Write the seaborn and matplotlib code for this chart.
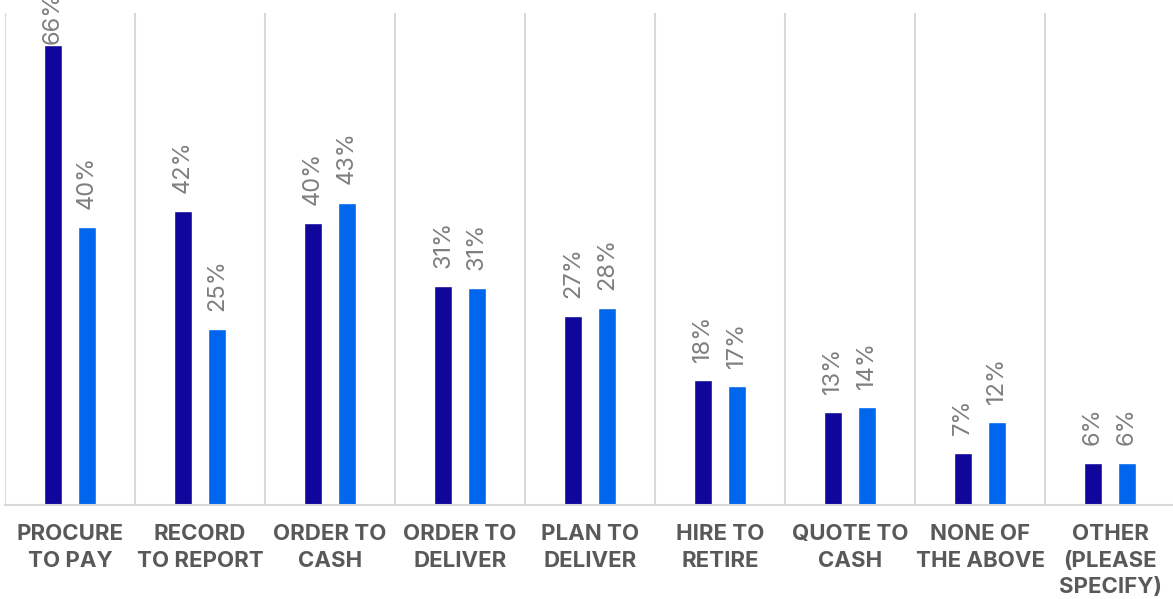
import matplotlib
matplotlib.use("Agg")
import matplotlib.pyplot as plt
import pandas as pd
import seaborn as sns

categories = ["PROCURE\nTO PAY", "RECORD\nTO REPORT", "ORDER TO\nCASH", "ORDER TO\nDELIVER",
              "PLAN TO\nDELIVER", "HIRE TO\nRETIRE", "QUOTE TO\nCASH", "NONE OF\nTHE ABOVE",
              "OTHER\n(PLEASE\nSPECIFY)"]
series_names = ["Series 1", "Series 2"]
series_1 = [66.0, 42.2, 40.4, 31.4, 27.1, 18.0, 13.4, 7.4, 6.0]
series_2 = [39.9, 25.3, 43.4, 31.1, 28.2, 17.1, 14.1, 11.9, 6.0]
labels_1 = ["66%", "42%", "40%", "31%", "27%", "18%", "13%", "7%", "6%"]
labels_2 = ["40%", "25%", "43%", "31%", "28%", "17%", "14%", "12%", "6%"]

colors = ["#11069B", "#0066EE"]

df = pd.DataFrame({
    "category": categories * 2,
    "series": [series_names[0]] * len(categories) + [series_names[1]] * len(categories),
    "value": series_1 + series_2,
})

sns.set_style("white")
plt.rcParams["font.family"] = ["Inter", "DejaVu Sans"]

fig = plt.figure(figsize=(11.73, 5.99), dpi=100)
ax = fig.add_axes([5 / 1173, 94 / 599, 1170 / 1173, 492 / 599])

sns.barplot(data=df, x="category", y="value", hue="series", palette=colors,
            width=0.523, gap=0.47, ax=ax, legend=False, saturation=1)

ax.set_ylim(0, 70.6)
ax.set_xlim(-0.5, len(categories) - 0.5)

# value labels above bars
top = max(series_1 + series_2)
for container, labels in zip(ax.containers, [labels_1, labels_2]):
    for bar, lab in zip(container, labels):
        h = bar.get_height()
        off = 1 if h == top else 13
        ax.annotate(lab, (bar.get_x() + bar.get_width() / 2, h),
                    xytext=(0, off), textcoords="offset points",
                    rotation=90, ha="center", va="bottom",
                    fontsize=17, color="#7F7F7F", annotation_clip=False)

# category separators
ax.set_xticks([i + 0.5 for i in range(-1, len(categories))], minor=True)
ax.grid(which="minor", axis="x", color="#D9D9D9", linewidth=1.5)
ax.grid(which="major", axis="both", visible=False)
ax.tick_params(which="both", length=0)
ax.tick_params(axis="x", pad=14)
ax.set_xticklabels(categories, fontsize=16, fontweight="bold", color="#595959",
                   linespacing=1.4)
ax.set_yticks([])
ax.set_xlabel("")
ax.set_ylabel("")
for side in ["top", "left", "right"]:
    ax.spines[side].set_visible(False)
ax.spines["bottom"].set_color("#D9D9D9")
ax.spines["bottom"].set_linewidth(1.5)

fig.savefig("out.png", dpi=100)
plt.close("all")
